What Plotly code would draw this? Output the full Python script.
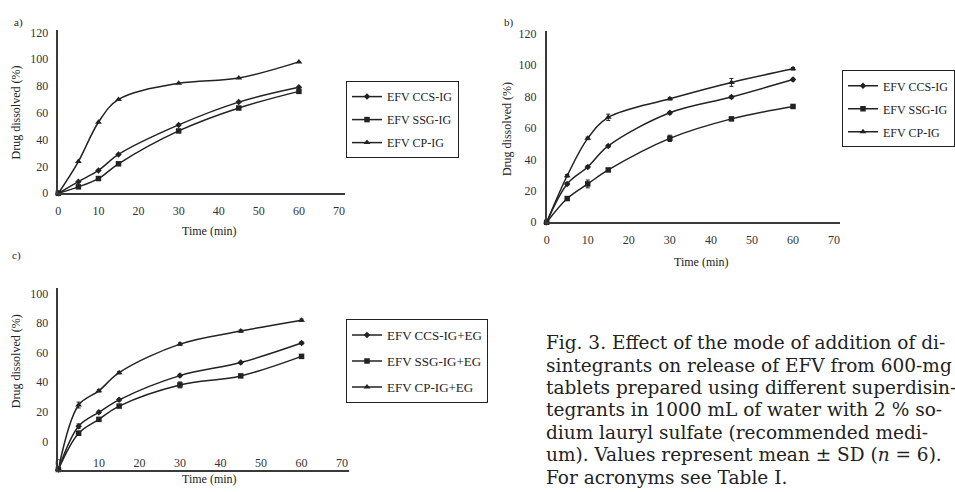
import plotly.graph_objects as go

W, H = 955, 492

# ---------------- data ----------------
time_min = [0, 5, 10, 15, 30, 45, 60]

a_ccs = [0, 8.7, 17, 29, 51, 68, 79]
a_ssg = [0, 4.8, 11, 22, 46.5, 63.6, 76]
a_cp = [0, 23.7, 53, 70, 82, 86, 98]

b_ccs = [0, 24.4, 35.2, 48.6, 69.7, 79.7, 90.8]
b_ssg = [0, 15.1, 24.4, 33.3, 53.4, 65.8, 73.7]
b_cp = [0, 29.6, 53.4, 66.8, 78.6, 89, 97.7]
b_ccs_sd = [0, 0.8, 0.8, 0.8, 0.8, 0.8, 0.8]
b_ssg_sd = [0, 0.8, 2.5, 0.8, 2.0, 0.8, 0.8]
b_cp_sd = [0, 0.8, 0.8, 2.0, 0.8, 2.5, 0.8]

c_ccs = [-19, 10.3, 19.7, 28.1, 44.5, 53.3, 66.5]
c_ssg = [-19, 5.5, 14.9, 23.9, 38.2, 44.3, 57.5]
c_cp = [-19, 24.6, 34.2, 46.5, 65.8, 74.6, 82]
c_ccs_sd = [0, 1.5, 0.8, 0.8, 0.8, 0.8, 0.8]
c_ssg_sd = [0, 1.5, 0.8, 0.8, 2.0, 0.8, 0.8]
c_cp_sd = [0, 2.0, 0.8, 0.8, 0.8, 0.8, 0.8]

names_ab = ["EFV CCS-IG", "EFV SSG-IG", "EFV CP-IG"]
names_c = ["EFV CCS-IG+EG", "EFV SSG-IG+EG", "EFV CP-IG+EG"]
x_ticks = [0, 10, 20, 30, 40, 50, 60, 70]
y_ticks = [0, 20, 40, 60, 80, 100, 120]
y_ticks_c = [0, 20, 40, 60, 80, 100]

caption_lines = [
    "Fig. 3. Effect of the mode of addition of di-",
    "sintegrants on release of EFV from 600-mg",
    "tablets prepared using different superdisin-",
    "tegrants in 1000 mL of water with 2 % so-",
    "dium lauryl sulfate (recommended medi-",
    "um). Values represent mean ± SD (<i>n</i> = 6).",
    "For acronyms see Table I.",
]

# ---------------- styling ----------------
FONT = "Liberation Serif"
CAP_FONT = "DejaVu Serif"
INK = "#222222"
AX = "#3a3a3a"
symbols = ["diamond", "square", "triangle-up"]
sizes = [5, 5.5, 6]


def px(x):
    return x / W


def py(y):
    return 1 - y / H


fig = go.Figure()


def add_panel(ys, sds, names, xa, ya, legend, grp):
    for i, (y, nm) in enumerate(zip(ys, names)):
        err = None
        if sds is not None:
            err = dict(type="data", array=sds[i], visible=True, color=INK,
                       thickness=1, width=2)
        fig.add_trace(go.Scatter(
            x=time_min, y=y, name=nm, mode="lines+markers",
            line=dict(color=INK, width=1.5, shape="spline", smoothing=1),
            marker=dict(symbol=symbols[i], size=sizes[i], color=INK),
            error_y=err, xaxis=xa, yaxis=ya, legend=legend,
            legendgroup=f"{grp}{i}", cliponaxis=False,
        ))


add_panel([a_ccs, a_ssg, a_cp], None, names_ab, "x", "y", "legend", "a")
add_panel([b_ccs, b_ssg, b_cp], [b_ccs_sd, b_ssg_sd, b_cp_sd], names_ab, "x2", "y2", "legend2", "b")
add_panel([c_ccs, c_ssg, c_cp], [c_ccs_sd, c_ssg_sd, c_cp_sd], names_c, "x3", "y3", "legend3", "c")

tickfont = dict(family=FONT, size=12, color="#333333")


def xaxis(dom, rng, anchor, **kw):
    d = dict(domain=dom, range=rng, anchor=anchor, showline=True, linecolor=AX,
             linewidth=1.6, ticks="", showgrid=False, zeroline=False,
             tickvals=x_ticks, tickfont=tickfont, ticklabelstandoff=6)
    d.update(kw)
    return d


def yaxis(dom, rng, anchor, tv, **kw):
    d = dict(domain=dom, range=rng, anchor=anchor, showline=True, linecolor=AX,
             linewidth=1.6, ticks="", showgrid=False, zeroline=False,
             tickvals=tv, tickfont=tickfont, ticklabelstandoff=6)
    d.update(kw)
    return d


legend_common = dict(xanchor="left", yanchor="top", bordercolor=INK, borderwidth=1,
                     bgcolor="white", tracegroupgap=4,
                     font=dict(family=FONT, size=12, color=INK))

fig.update_layout(
    width=W, height=H, margin=dict(l=0, r=0, t=0, b=0),
    paper_bgcolor="white", plot_bgcolor="white",
    font=dict(family=FONT, color=INK),
    xaxis=xaxis([px(56), px(346)], [0, 71.5], "y"),
    yaxis=yaxis([py(193), py(26)], [0, 121.5], "x", y_ticks),
    xaxis2=xaxis([px(550), px(847)], [0, 71.5], "y2"),
    yaxis2=yaxis([py(222.7), py(27)], [0, 121.5], "x2", y_ticks),
    xaxis3=xaxis([px(56), px(350)], [0, 71.7], "y3",
                 ticklabelposition="inside", ticklabeloverflow="allow",
                 ticklabelstandoff=0),
    yaxis3=yaxis([py(476.7), py(290)], [-19.4, 103.8], "x3", y_ticks_c),
    legend=dict(x=px(347), y=py(78), **legend_common),
    legend2=dict(x=px(849), y=py(67), **legend_common),
    legend3=dict(x=px(347), y=py(322), **{**legend_common, "tracegroupgap": 6,
                 "font": dict(family=FONT, size=13, color=INK)}),
    showlegend=True,
)

ann = []


def text(x, y, s, size=12, xanchor="center", yanchor="middle", angle=0,
         family=FONT):
    ann.append(dict(x=x, y=y, xref="paper", yref="paper", text=s, showarrow=False,
                    xanchor=xanchor, yanchor=yanchor, textangle=angle,
                    font=dict(family=family, size=size, color=INK)))


# panel labels
text(px(9), py(18), "a)", 11, xanchor="left")
text(px(505), py(18), "b)", 11, xanchor="left")
text(px(7), py(256.7), "c)", 11, xanchor="left")
# axis titles
text(px(209), py(231.7), "Time (min)", 12)
text(px(13.3), py(110), "Drug dissolved (%)", 12, angle=-90)
text(px(706.7), py(263.3), "Time (min)", 12)
text(px(509.3), py(126.7), "Drug dissolved (%)", 12, angle=-90)
text(px(209), py(486), "Time (min)", 12)
text(px(13.3), py(365), "Drug dissolved (%)", 12, angle=-90)
# the 120 label of panel c sits above its axis
ann.append(dict(x=px(50), y=120, xref="paper", yref="y3", text="120", showarrow=False,
                xanchor="right", yanchor="middle",
                font=dict(family=FONT, size=12, color="#333333")))
# caption
for i, line in enumerate(caption_lines):
    text(px(547), py(346 + i * 23), line, 18.5, xanchor="left", family=CAP_FONT)

fig.update_layout(annotations=ann)

fig.write_html("out.html", config={"displayModeBar": False},
               post_script="document.body.style.margin='0px';")
